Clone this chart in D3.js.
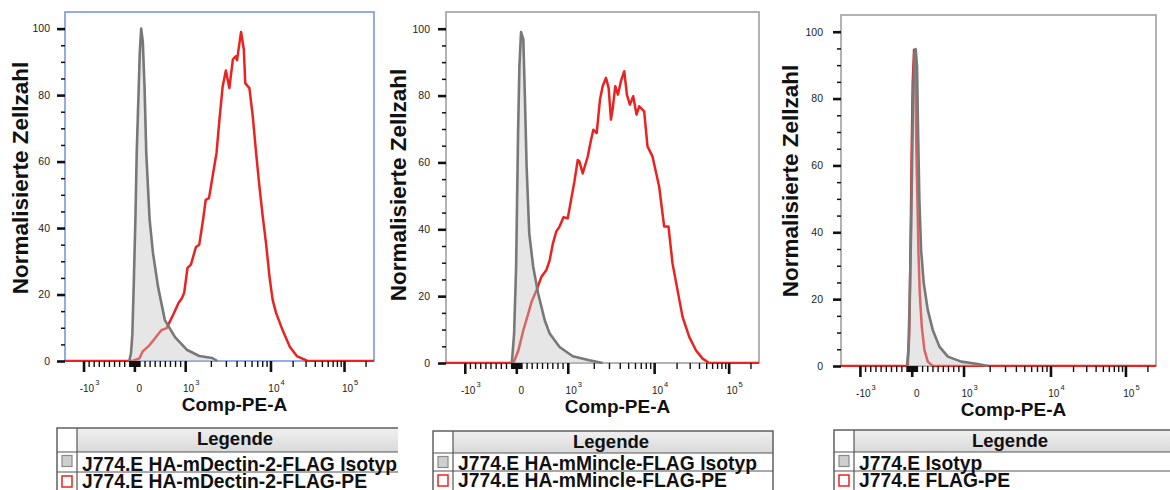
<!DOCTYPE html>
<html>
<head>
<meta charset="utf-8">
<script src="https://cdn.jsdelivr.net/npm/d3@7"></script>
<style>
body { margin: 0; background: #fff; }
text { font-family: "Liberation Sans", Arial, sans-serif; }
</style>
</head>
<body>
<script>
// axis values
var xMin = -1335;
var xMax = 262144;
var yTicks = [0, 20, 40, 60, 80, 100];
var yMinor = [5, 10, 15, 25, 30, 35, 45, 50, 55, 65, 70, 75, 85, 90, 95];
var xMajor = [-1000, 0, 1000, 10000, 100000];
var xTickBase = ["-10", "0", "10", "10", "10"];
var xTickExp = ["3", "", "3", "4", "5"];

// legend texts
var isoNames = ["J774.E HA-mDectin-2-FLAG Isotyp", "J774.E HA-mMincle-FLAG Isotyp", "J774.E Isotyp"];
var peNames = ["J774.E HA-mDectin-2-FLAG-PE", "J774.E HA-mMincle-FLAG-PE", "J774.E FLAG-PE"];

// histograms [Comp-PE-A, normalized count]
var dectinIso = [[-100,0],[-66,2.4],[-40,8],[-14,22],[20,42.5],[46,62.6],[86,82.5],[106,92.7],[134,100],[166,96],[200,82.5],[234,62.6],[300,42.5],[366,32.5],[466,22.3],[600,12.3],[800,7.2],[1056,3.3],[1462,1.5],[2080,0.9],[2380,0]];
var dectinPE = [[-1335,0],[-40,0],[100,0.8],[160,2.8],[300,4.8],[534,9.3],[634,9.9],[766,14],[866,17.4],[934,18.9],[980,20.5],[1064,28],[1167,29],[1336,34.3],[1462,35],[1620,42.5],[1740,48.5],[1900,49],[2094,55.5],[2330,62.6],[2520,72.6],[2750,82.6],[3000,87.4],[3293,82.1],[3620,90.7],[3900,91.7],[4055,90.5],[4330,95.7],[4519,99],[4870,93.7],[5060,83.6],[5659,82.1],[6200,73.6],[6780,62.6],[7420,52.5],[8110,43.5],[8870,35.4],[9730,25.4],[10700,18.4],[11940,14.4],[14600,9.3],[18300,4.3],[22800,1.5],[31900,0],[262144,0]];
var mincleIso = [[-86,0],[-42,8.8],[-3,28.8],[16,48.8],[35,68.8],[61,88.8],[93,99],[137,96.8],[169,78.8],[201,58.8],[252,38.8],[329,28.8],[425,20.8],[553,12.8],[649,8.8],[841,4.8],[1142,2],[1778,0.8],[2535,0]];
var minclePE = [[-1335,0],[-54,0],[42,3.8],[137,9.8],[233,14.8],[297,18.3],[393,21.8],[489,25.8],[585,27.8],[649,30.8],[712,35.8],[776,39.3],[840,40.8],[917,43.6],[1000,43.3],[1093,48.8],[1194,54.3],[1304,60.7],[1363,60.3],[1490,56.7],[1701,61.7],[1858,66.7],[1978,69.8],[2161,68.8],[2361,78.8],[2534,82.8],[2769,85.3],[2973,82.3],[3162,72.8],[3305,75.8],[3548,82.8],[3809,80.3],[4125,84.3],[4507,87.3],[4837,80.3],[5239,77.3],[5723,79.8],[6255,74.3],[6713,76.8],[7666,75.3],[8376,64.8],[9567,61.8],[11674,52.8],[13630,40.8],[15590,40.8],[17640,29.8],[20600,21.8],[24060,13.8],[29580,7.8],[36350,3.8],[44690,1.3],[54940,0],[262144,0]];
var flagIso = [[-90,0],[-65,4.8],[-39,19.8],[-13,39.7],[6,59.7],[26,79.6],[52,93.6],[77,94.8],[103,89.6],[123,69.7],[148,49.7],[181,34.7],[232,24.8],[310,16.8],[406,10.8],[535,5.8],[697,2.8],[955,1.3],[1462,0.6],[1905,0]];
var flagPE = [[-1335,0],[-77,0],[-45,9.8],[-19,39.7],[0,64.7],[19,84.6],[45,94.6],[65,91.6],[77,79.6],[90,64.7],[110,49.7],[129,34.7],[155,21.8],[194,11.8],[245,4.8],[310,1.3],[406,0],[262144,0]];

var isoData = [dectinIso, mincleIso, flagIso];
var peData = [dectinPE, minclePE, flagPE];

// layout of the three panels
var panels = [
  {left: 65, right: 374, top: 12, bottom: 361, frame: "#7090e0", pad: 7, ylabX: 28, ylabY: 178,
   leg: {left: 57, col: 77, top: 428, head: 452, row: 472, right: 420, clip: 397}},
  {left: 446, right: 759, top: 12, bottom: 363, frame: "#999", pad: 8, ylabX: 406, ylabY: 185,
   leg: {left: 433, col: 453, top: 431, head: 453, row: 471, right: 773, clip: 773}},
  {left: 841, right: 1156, top: 15, bottom: 366, frame: "#999", pad: 10, ylabX: 798, ylabY: 181,
   leg: {left: 834, col: 854, top: 430, head: 452, row: 471, right: 1185, clip: 1170}}
];
// where the decades sit along the frame width
var frac = [0, 0.060, 0.2245, 0.389, 0.665, 0.903, 1];

// biexponential-ish transform: linear in +-1000, log outside
function biex(v) {
  var a = Math.abs(v);
  if (a <= 1000) return v / 1000;
  return Math.sign(v) * (1 + Math.log10(a / 1000));
}

var xMinor = [];
for (var k = 1; k <= 9; k++) {
  xMinor.push(k * 10, -k * 10, k * 100, -k * 100);
  if (k > 1) xMinor.push(k * 1000, k * 10000);
}
xMinor.push(200000);

var red = "#ea2320";
var grey = "#787878";

var svg = d3.select("body").append("svg")
  .attr("width", 1170)
  .attr("height", 490);

var defs = svg.append("defs");
var grad = defs.append("linearGradient").attr("id", "headGrad")
  .attr("x1", 0).attr("y1", 0).attr("x2", 0).attr("y2", 1);
grad.append("stop").attr("offset", "0%").attr("stop-color", "#f0f0f0");
grad.append("stop").attr("offset", "100%").attr("stop-color", "#d9d9d9");

panels.forEach(function(p, i) {
  var g = svg.append("g");
  var w = p.right - p.left;

  var xs = d3.scaleLinear()
    .domain([biex(xMin), -1, 0, 1, 2, 3, biex(xMax)])
    .range(frac.map(function(f) { return p.left + f * w; }));
  var x = function(v) { return xs(biex(v)); };
  var y = d3.scaleLinear().domain([0, 105]).range([p.bottom, p.top]);

  defs.append("clipPath").attr("id", "plot" + i).append("rect")
    .attr("x", p.left).attr("y", p.top - 2)
    .attr("width", w).attr("height", p.bottom - p.top + 3);

  // frame
  g.append("rect")
    .attr("x", p.left).attr("y", p.top)
    .attr("width", w).attr("height", p.bottom - p.top)
    .attr("fill", "#fff")
    .attr("stroke", p.frame)
    .attr("stroke-width", 1.5);

  var line = d3.line().x(function(d) { return x(d[0]); }).y(function(d) { return y(d[1]); });
  var area = d3.area().x(function(d) { return x(d[0]); }).y0(y(0)).y1(function(d) { return y(d[1]); });

  var plot = g.append("g").attr("clip-path", "url(#plot" + i + ")");
  plot.append("path").datum(peData[i])
    .attr("d", line).attr("fill", "none")
    .attr("stroke", red).attr("stroke-width", 2.5).attr("stroke-linejoin", "round");
  plot.append("path").datum(isoData[i])
    .attr("d", area).attr("fill", "#c4c4c4").attr("fill-opacity", 0.42);
  plot.append("path").datum(isoData[i])
    .attr("d", line).attr("fill", "none")
    .attr("stroke", grey).attr("stroke-width", 2.6).attr("stroke-linejoin", "round");

  // y axis
  var yMaj = g.append("g").attr("transform", "translate(" + p.left + ",0)")
    .call(d3.axisLeft(y).tickValues(yTicks).tickSize(8).tickPadding(p.pad));
  yMaj.select(".domain").remove();
  yMaj.selectAll("line").attr("stroke", "#111").attr("stroke-width", 2.6);
  yMaj.selectAll("text").attr("font-size", 10.5).attr("fill", "#222")
    .attr("font-family", "'Liberation Sans', Arial, sans-serif");
  var yMin = g.append("g").attr("transform", "translate(" + p.left + ",0)")
    .call(d3.axisLeft(y).tickValues(yMinor).tickSize(4).tickFormat(""));
  yMin.select(".domain").remove();
  yMin.selectAll("line").attr("stroke", "#111").attr("stroke-width", 1.5);

  // x axis, ticks in transformed space
  var xMaj = g.append("g").attr("transform", "translate(0," + p.bottom + ")")
    .call(d3.axisBottom(xs).tickValues(xMajor.map(biex)).tickSize(11).tickFormat(""));
  xMaj.select(".domain").remove();
  xMaj.selectAll("line").attr("stroke", "#111").attr("stroke-width", 2.6);
  var xMin2 = g.append("g").attr("transform", "translate(0," + p.bottom + ")")
    .call(d3.axisBottom(xs).tickValues(xMinor.map(biex)).tickSize(6).tickFormat(""));
  xMin2.select(".domain").remove();
  xMin2.selectAll("line").attr("stroke", "#111").attr("stroke-width", 1.4);

  xMajor.forEach(function(v, j) {
    var t = g.append("text")
      .attr("x", x(v) + (xTickExp[j] ? 6 : 5))
      .attr("y", p.bottom + 31)
      .attr("text-anchor", "middle")
      .attr("font-size", 10)
      .attr("fill", "#222");
    t.append("tspan").text(xTickBase[j]);
    if (xTickExp[j]) {
      t.append("tspan").attr("dy", -7).attr("dx", 1).attr("font-size", 7.5).text(xTickExp[j]);
    }
  });

  // axis titles
  g.append("text")
    .attr("x", (p.left + p.right) / 2 + 15)
    .attr("y", p.bottom + 50)
    .attr("text-anchor", "middle")
    .attr("font-size", 19).attr("font-weight", "bold")
    .attr("fill", "#111")
    .text("Comp-PE-A");
  g.append("text")
    .attr("transform", "translate(" + p.ylabX + "," + p.ylabY + ") rotate(-90)")
    .attr("text-anchor", "middle")
    .attr("font-size", 22.5).attr("font-weight", "bold")
    .attr("fill", "#111")
    .text("Normalisierte Zellzahl");

  // legend table
  var L = p.leg;
  defs.append("clipPath").attr("id", "leg" + i).append("rect")
    .attr("x", L.left - 2).attr("y", L.top - 2)
    .attr("width", L.clip - L.left + 3).attr("height", 80);
  var lg = svg.append("g").attr("clip-path", "url(#leg" + i + ")");
  lg.append("rect").attr("x", L.col).attr("y", L.top)
    .attr("width", L.right - L.col).attr("height", L.head - L.top)
    .attr("fill", "url(#headGrad)");
  lg.append("rect").attr("x", L.left).attr("y", L.top)
    .attr("width", L.right - L.left).attr("height", 500 - L.top)
    .attr("fill", "none").attr("stroke", "#555").attr("stroke-width", 1.4);
  [L.head, L.row].forEach(function(yy) {
    lg.append("line").attr("x1", L.left).attr("x2", L.right)
      .attr("y1", yy).attr("y2", yy)
      .attr("stroke", "#555").attr("stroke-width", 1.2);
  });
  lg.append("line").attr("x1", L.col).attr("x2", L.col)
    .attr("y1", L.top).attr("y2", 500)
    .attr("stroke", "#555").attr("stroke-width", 1.2);
  lg.append("text")
    .attr("x", (L.col + L.clip) / 2 - 2)
    .attr("y", L.top + 17)
    .attr("text-anchor", "middle")
    .attr("font-size", 18.5).attr("font-weight", "bold")
    .attr("fill", "#111")
    .text("Legende");

  var bx = (L.left + L.col) / 2 - 5;
  lg.append("rect").attr("x", bx).attr("y", L.head + 3.5)
    .attr("width", 10).attr("height", 11)
    .attr("fill", "#cfcfcf").attr("stroke", "#8a8a8a").attr("stroke-width", 1.2);
  lg.append("rect").attr("x", bx).attr("y", L.row + 4)
    .attr("width", 10).attr("height", 11)
    .attr("fill", "#fff").attr("stroke", red).attr("stroke-width", 1.5);

  lg.append("text")
    .attr("x", L.col + 5).attr("y", L.row - 1.5)
    .attr("font-size", 19.3).attr("font-weight", "bold").attr("fill", "#111")
    .text(isoNames[i]);
  lg.append("text")
    .attr("x", L.col + 5).attr("y", L.row + 16)
    .attr("font-size", 19.3).attr("font-weight", "bold").attr("fill", "#111")
    .text(peNames[i]);
});
</script>
</body>
</html>
